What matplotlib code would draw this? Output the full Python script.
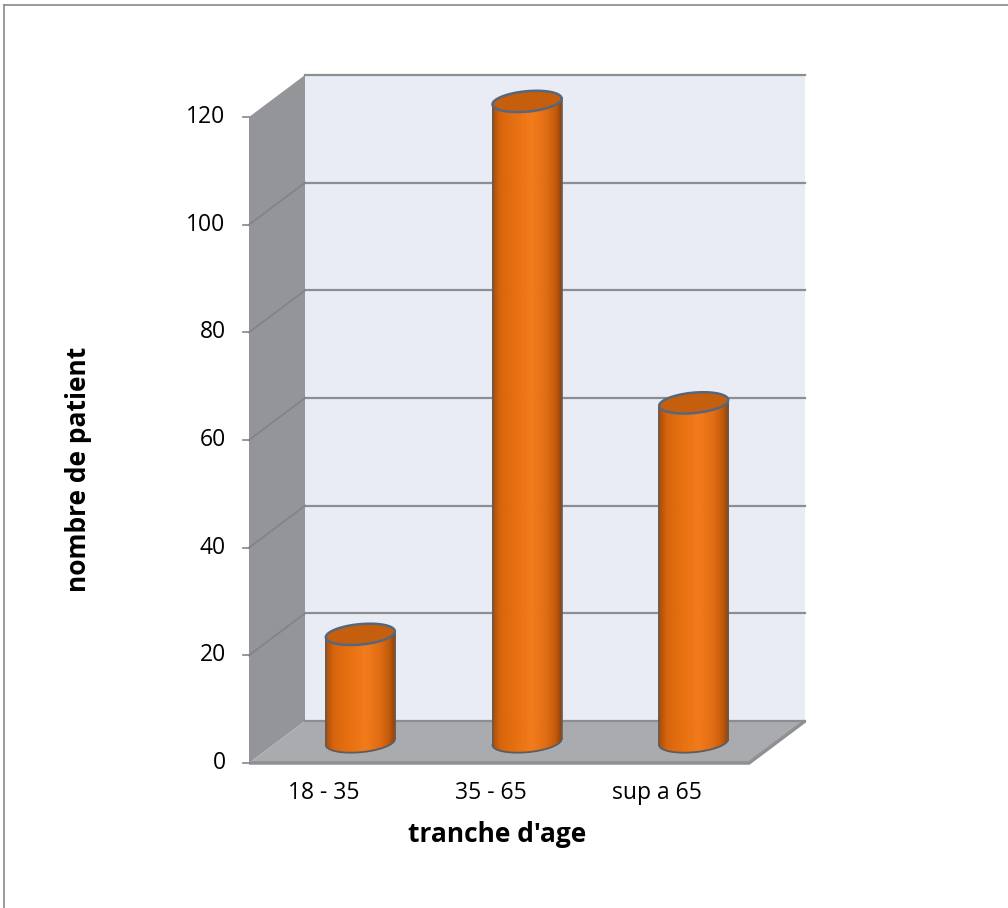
import numpy as np
import matplotlib
matplotlib.use('Agg')
import matplotlib.pyplot as plt
from matplotlib.collections import PolyCollection
from matplotlib.colors import LinearSegmentedColormap
from matplotlib.patches import Polygon
from matplotlib.lines import Line2D

# donnees
categories = ['18 - 35', '35 - 65', 'sup a 65']
patients = [20, 119, 63]
yticks = [0, 20, 40, 60, 80, 100, 120]

plt.rcParams['font.family'] = ['Open Sans', 'DejaVu Sans']

W, H = 1008, 908
fig = plt.figure(figsize=(W / 100, H / 100), dpi=100)
ax = fig.add_axes([0, 0, 1, 1])
ax.set_axis_off()

# echelle : pixels par categorie / par unite, origine du plan avant
px_cat, px_val = 166.67, 5.383
ox, oy = 249, 763
ax.set_xlim(-ox / px_cat, (W - ox) / px_cat)
ax.set_ylim(-(H - oy) / px_val, oy / px_val)

ncat = len(categories)
ymax = yticks[-1]
DX, DY = 0.336, 7.8   # profondeur (decalage du fond)

# mur du fond
ax.add_patch(Polygon([(DX, DY), (ncat + DX, DY), (ncat + DX, ymax + DY), (DX, ymax + DY)],
                     closed=True, fc='#e9ecf5', ec='none', zorder=1))
# mur gauche
ax.add_patch(Polygon([(0, 0), (DX, DY), (DX, ymax + DY), (0, ymax)],
                     closed=True, fc='#939598', ec='none', zorder=1))
# sol
ax.add_patch(Polygon([(0, 0), (ncat, 0), (ncat + DX, DY), (DX, DY)],
                     closed=True, fc='#a9abae', ec='none', zorder=1))
ax.plot([0, ncat, ncat + DX], [0, 0, DY], color='#8e9093', lw=2.5, zorder=2,
        solid_capstyle='butt')

# quadrillage
for v in yticks:
    ax.plot([DX, ncat + DX], [v + DY, v + DY], color='#8b8e92', lw=1.6, zorder=2)
    if 0 < v < ymax:
        ax.plot([0, DX], [v, v + DY], color='#828488', lw=1.3, zorder=2)

# graduations axe Y
for v in yticks:
    ax.plot([-0.036, 0], [v, v], color='#868686', lw=1.2, zorder=2)
    ax.text(-0.14, v, str(v), ha='right', va='center', fontsize=16.5, color='#000000')

for i, c in enumerate(categories):
    ax.text(i + 0.45, -5.6, c, ha='center', va='center', fontsize=16.5, color='#000000')

ax.text(1.49, -13.3, "tranche d'age", ha='center', va='center', fontsize=19,
        fontweight='bold')
ax.text(-1.02, 54.5, 'nombre de patient', ha='center', va='center', fontsize=19,
        fontweight='bold', rotation=90)

# cylindres
cmap = LinearSegmentedColormap.from_list('cyl', [
    (0.0, '#a84c08'), (0.12, '#d8650e'), (0.35, '#e8700f'), (0.58, '#f37b1a'),
    (0.8, '#e06c12'), (0.93, '#c05a0b'), (1.0, '#9a4507')])

a, b, t = 0.207, 1.9, 0.55
th = np.linspace(np.pi, 2 * np.pi, 90)
full = np.linspace(0, 2 * np.pi, 200)


def ell(cx, cy, ang):
    return cx + a * np.cos(ang), cy + b * np.sin(ang) + t * np.cos(ang)


for i, val in enumerate(patients):
    cx = i + 0.5 + DX / 2
    y0 = DY / 2
    y1 = y0 + val
    bx, by = ell(cx, y0, th)
    tx, ty = ell(cx, y1, th)
    quads, cols = [], []
    for k in range(len(th) - 1):
        quads.append([(bx[k], by[k]), (bx[k + 1], by[k + 1]),
                      (tx[k + 1], ty[k + 1]), (tx[k], ty[k])])
        cols.append(cmap((np.cos(th[k]) + np.cos(th[k + 1])) / 4 + 0.5))
    pc = PolyCollection(quads, facecolors=cols, edgecolors=cols, linewidths=0.6, zorder=3)
    ax.add_collection(pc)
    # contour
    ax.plot(bx, by, color='#5c5d60', lw=1.3, zorder=4)
    ax.plot([bx[0], tx[0]], [by[0], ty[0]], color='#6a5a50', lw=1.2, zorder=4)
    ax.plot([bx[-1], tx[-1]], [by[-1], ty[-1]], color='#6a5a50', lw=1.2, zorder=4)
    # dessus
    ex, ey = ell(cx, y1, full)
    ax.add_patch(Polygon(np.column_stack([ex, ey]), closed=True, fc='#c65f0d',
                         ec='#55677c', lw=1.8, zorder=5))

# cadre
fig.add_artist(Line2D([4 / W, 4 / W], [0, 1 - 5 / H], color='#8a8a8a', lw=1.2))
fig.add_artist(Line2D([4 / W, 1], [1 - 5 / H, 1 - 5 / H], color='#8a8a8a', lw=1.2))

fig.savefig('out.png', dpi=100, facecolor='white')
